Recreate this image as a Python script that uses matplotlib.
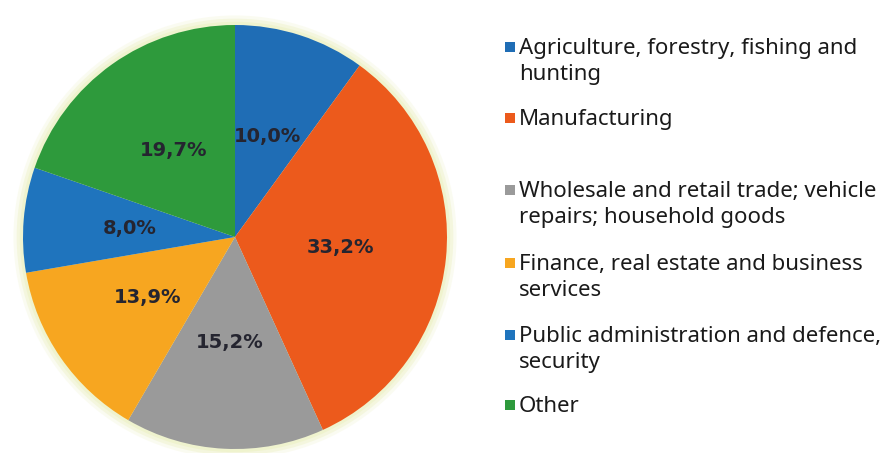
import matplotlib
matplotlib.use("Agg")
import matplotlib.pyplot as plt
from matplotlib.patches import Circle, Rectangle

plt.rcParams['font.family'] = ['Noto Sans', 'DejaVu Sans']

# sector shares (%), clockwise from 12 o'clock
sectors = ["Agriculture, forestry, fishing and\nhunting",
           "Manufacturing",
           "Wholesale and retail trade; vehicle\nrepairs; household goods",
           "Finance, real estate and business\nservices",
           "Public administration and defence,\nsecurity",
           "Other"]
shares = [10.0, 33.2, 15.2, 13.9, 8.0, 19.7]
colors = ['#1f6db5', '#ec5a1c', '#9a9a9a', '#f7a620', '#1f74bd', '#2e9a3c']
legend_y = [47, 118, 190, 263, 335, 405]   # first-line centre, px from top

W, H = 889, 453
fig = plt.figure(figsize=(W / 100, H / 100), dpi=100)
fig.patch.set_facecolor('white')

# pie axes: centre (235, 237) px, radius 212 px
r = 212
cx, cy = 235, 237
ax = fig.add_axes([(cx - r) / W, (H - cy - r) / H, 2 * r / W, 2 * r / H])

# soft pale glow around the disc
for k, a in [(1.045, 0.25), (1.03, 0.45), (1.015, 0.7)]:
    ax.add_patch(Circle((0, 0), k, color='#eef2c8', alpha=a, lw=0, clip_on=False, zorder=0))

wedges, texts, autotexts = ax.pie(
    shares, colors=colors, startangle=90, counterclock=False,
    autopct=lambda p: f"{p:.1f}%".replace('.', ','), pctdistance=0.5,
    wedgeprops=dict(linewidth=0),
    textprops=dict(fontsize=14, fontweight='bold', family='DejaVu Sans', color='#252530'))
ax.set_xlim(-1, 1)
ax.set_ylim(-1, 1)
ax.axis('off')

# legend as plain text blocks with square keys
for lab, col, yc in zip(sectors, colors, legend_y):
    fig.patches.append(Rectangle((505 / W, (H - yc - 5) / H), 10 / W, 10 / H,
                                 transform=fig.transFigure, facecolor=col, edgecolor='none'))
    fig.text(519 / W, (H - yc + 9) / H, lab, fontsize=16, color='#1a1a1a',
             va='top', ha='left', linespacing=1.33)

fig.savefig('out.png', dpi=100, facecolor='white')
